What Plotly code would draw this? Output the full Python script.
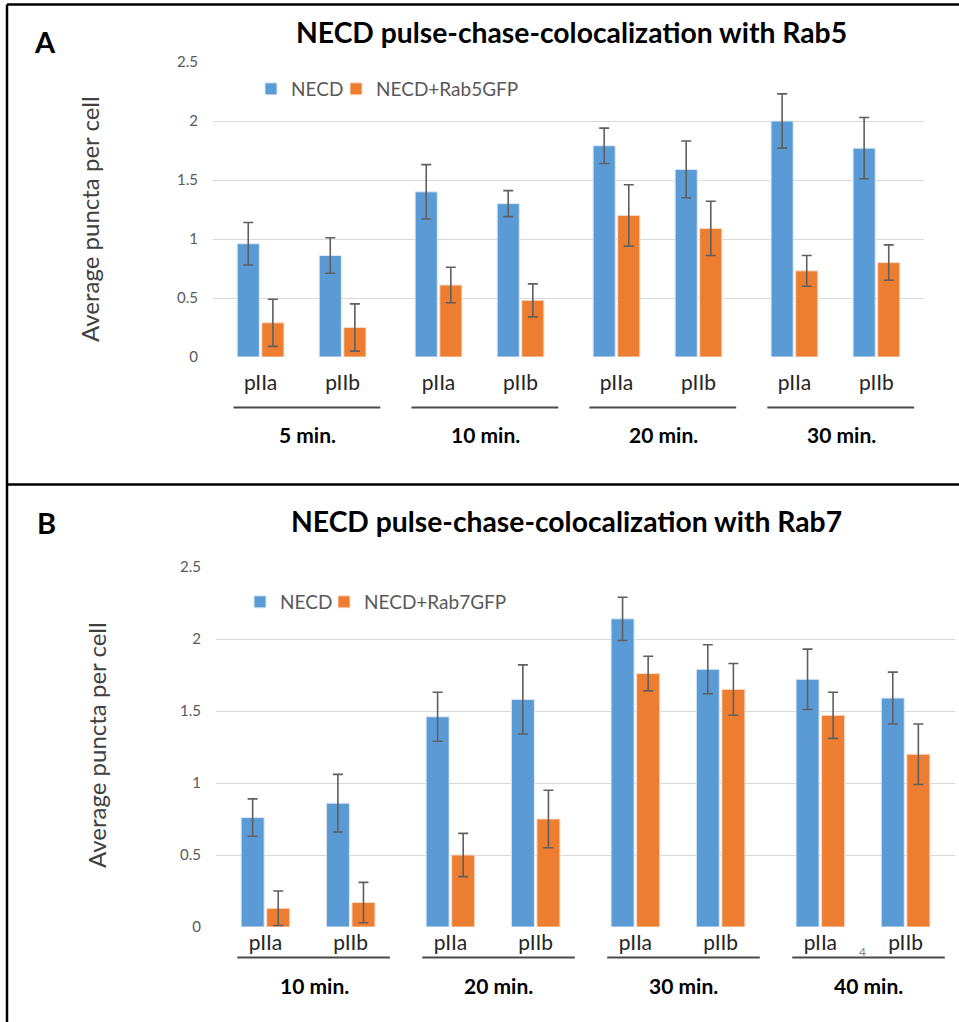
import plotly.graph_objects as go

# ---------------- data ----------------
cells = ["pIIa", "pIIb"]
groups_A = ["5 min.", "10 min.", "20 min.", "30 min."]
groups_B = ["10 min.", "20 min.", "30 min.", "40 min."]

necd_A = [0.96, 0.86, 1.40, 1.30, 1.79, 1.59, 2.00, 1.77]
necd_A_err = [0.18, 0.15, 0.23, 0.11, 0.15, 0.24, 0.23, 0.26]
rab5_A = [0.29, 0.25, 0.61, 0.48, 1.20, 1.09, 0.73, 0.80]
rab5_A_err = [0.20, 0.20, 0.15, 0.14, 0.26, 0.23, 0.13, 0.15]

necd_B = [0.76, 0.86, 1.46, 1.58, 2.14, 1.79, 1.72, 1.59]
necd_B_err = [0.13, 0.20, 0.17, 0.24, 0.15, 0.17, 0.21, 0.18]
rab7_B = [0.13, 0.17, 0.50, 0.75, 1.76, 1.65, 1.47, 1.20]
rab7_B_err = [0.12, 0.14, 0.15, 0.20, 0.12, 0.18, 0.16, 0.21]

y_ticks = [0, 0.5, 1, 1.5, 2, 2.5]
y_ticktext = ["0", "0.5", "1", "1.5", "2", "2.5"]

# ---------------- layout helpers ----------------
W, H = 959, 1022
BLUE, ORANGE = "#5B9BD5", "#ED7D31"
FONT = "Lato, 'Open Sans', sans-serif"
GROUP_GAP = 0.17


def px_x(p):
    return p / W


def px_y(p):
    return 1 - p / H


def positions(groups):
    xs, labels = [], []
    for g, _ in enumerate(groups):
        for s, c in enumerate(cells):
            xs.append(g * (len(cells) + GROUP_GAP) + s)
            labels.append(c)
    return xs, labels


xA, labA = positions(groups_A)
xB, labB = positions(groups_B)

fig = go.Figure()

err_style = dict(type="data", visible=True, color="#5F5F5F", thickness=1.6, width=5)

fig.add_trace(go.Bar(x=xA, y=necd_A, name="NECD", marker=dict(color=BLUE, line=dict(color="#DCEAF6", width=1)),
                     error_y=dict(array=necd_A_err, **err_style), xaxis="x", yaxis="y", legend="legend",
                     showlegend=True))
fig.add_trace(go.Bar(x=xA, y=rab5_A, name="NECD+Rab5GFP", marker=dict(color=ORANGE, line=dict(color="#F9DCC8", width=1)),
                     error_y=dict(array=rab5_A_err, **err_style), xaxis="x", yaxis="y", legend="legend2",
                     showlegend=True))
fig.add_trace(go.Bar(x=xB, y=necd_B, name="NECD", marker=dict(color=BLUE, line=dict(color="#DCEAF6", width=1)),
                     error_y=dict(array=necd_B_err, **err_style), xaxis="x2", yaxis="y2", legend="legend3",
                     showlegend=True))
fig.add_trace(go.Bar(x=xB, y=rab7_B, name="NECD+Rab7GFP", marker=dict(color=ORANGE, line=dict(color="#F9DCC8", width=1)),
                     error_y=dict(array=rab7_B_err, **err_style), xaxis="x2", yaxis="y2", legend="legend4",
                     showlegend=True))

xrange = [xA[0] - 0.58, xA[-1] + 0.58]

common_x = dict(range=xrange, showgrid=False, zeroline=False, showline=False, ticks="",
                tickfont=dict(family=FONT, size=21, color="#262626"))
common_y = dict(range=[0, 2.5], tickvals=y_ticks, ticktext=y_ticktext, showgrid=True, gridcolor="#D9D9D9",
                gridwidth=1.3, zeroline=False, showline=False, ticks="",
                tickfont=dict(family=FONT, size=15, color="#595959"))

legend_style = dict(orientation="h", xanchor="left", yanchor="middle", visible=True,
                    font=dict(family=FONT, size=19, color="#595959"),
                    bgcolor="rgba(0,0,0,0)", itemclick=False, itemdoubleclick=False)

fig.update_layout(
    width=W, height=H, margin=dict(l=0, r=0, t=0, b=0, autoexpand=False),
    paper_bgcolor="white", plot_bgcolor="white", showlegend=True,
    barmode="group", bargap=0.4, bargroupgap=0.1,
    font=dict(family=FONT),
    xaxis=dict(domain=[px_x(213), px_x(924)], anchor="y", tickvals=xA, ticktext=labA,
               ticklabelstandoff=11, **common_x),
    yaxis=dict(domain=[px_y(357), px_y(62)], anchor="x", ticklabelstandoff=14, **common_y),
    xaxis2=dict(domain=[px_x(216), px_x(955)], anchor="y2", tickvals=xB, ticktext=labB,
                ticklabelstandoff=1, **common_x),
    yaxis2=dict(domain=[px_y(927), px_y(567)], anchor="x2", ticklabelstandoff=14, **common_y),
    legend=dict(x=px_x(251), y=px_y(89), **legend_style),
    legend2=dict(x=px_x(336), y=px_y(89), **legend_style),
    legend3=dict(x=px_x(240), y=px_y(602), **legend_style),
    legend4=dict(x=px_x(324), y=px_y(602), **legend_style),
)

annotations = []
shapes = []


def ann(text, x, y, xref="paper", yref="paper", **kw):
    d = dict(text=text, x=x, y=y, xref=xref, yref=yref, showarrow=False, xanchor="center", yanchor="middle")
    d.update(kw)
    annotations.append(d)


# panel letters and titles
for letter, (lx, ly) in zip(["A", "B"], [(45, 42), (46, 522)]):
    ann(letter, px_x(lx), px_y(ly), font=dict(family=FONT, size=29, color="black", weight="bold"))
for title, (tx, ty) in zip(["NECD pulse-chase-colocalization with Rab5", "NECD pulse-chase-colocalization with Rab7"],
                           [(571, 32), (566, 521)]):
    ann(title, px_x(tx), px_y(ty), font=dict(family=FONT, size=28.3, color="black", weight="bold"))

# y-axis titles
for (yx, yy) in [(89, 219), (96, 745)]:
    ann("Average puncta per cell", px_x(yx), px_y(yy), textangle=-90,
        font=dict(family=FONT, size=24, color="#404040"))

# group lines and labels
for xref, xs, groups, line_y, label_y in [("x", xA, groups_A, 407.5, 434.5), ("x2", xB, groups_B, 957.5, 985)]:
    for g, name in enumerate(groups):
        first, last = xs[2 * g], xs[2 * g + 1]
        shapes.append(dict(type="line", xref=xref, yref="paper", x0=first - 0.33, x1=last + 0.46,
                           y0=px_y(line_y), y1=px_y(line_y), line=dict(color="#4A4A4A", width=2)))
        ann(name, (first + last) / 2 + 0.07, px_y(label_y), xref=xref,
            font=dict(family=FONT, size=21, color="black", weight="bold"))

# stray axis mark in panel B
ann("4", px_x(862), px_y(951), font=dict(family=FONT, size=12, color="#7F7F7F"))

# frame borders
bw = 2.5
for (x0, x1, y0, y1) in [(7, W, 4.5, 4.5), (7, W, 484.5, 484.5), (7, 7, 4.5, H)]:
    shapes.append(dict(type="line", xref="paper", yref="paper", x0=px_x(x0), x1=px_x(x1), y0=px_y(y0), y1=px_y(y1),
                       line=dict(color="black", width=bw)))

fig.update_layout(annotations=annotations, shapes=shapes)

post = ("document.body.style.margin='0';document.body.style.overflow='hidden';"
        "var gd=document.getElementById('{plot_id}');gd.style.position='absolute';"
        "gd.style.top='0px';gd.style.left='0px';")
fig.write_html("out.html", post_script=post, config={"displayModeBar": False})
